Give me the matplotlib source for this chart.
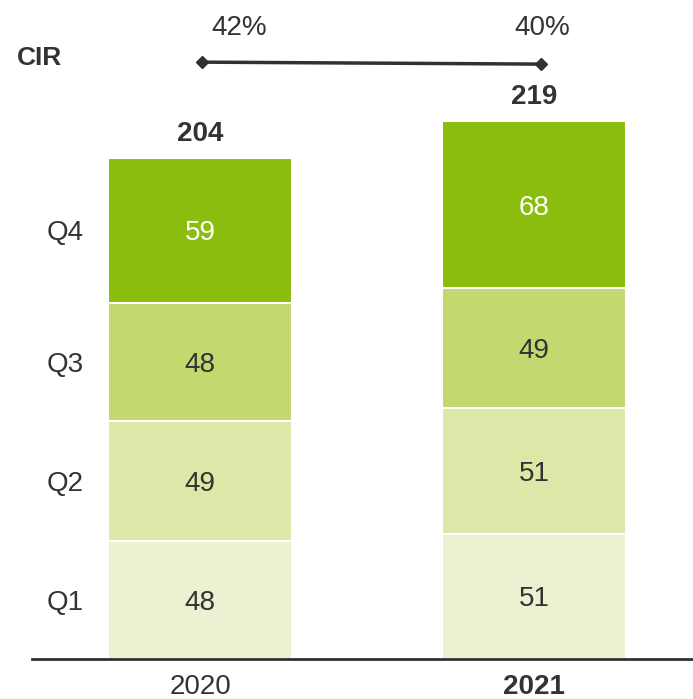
import numpy as np
import matplotlib.pyplot as plt

plt.rcParams['font.family'] = ['Liberation Sans', 'DejaVu Sans']

# data
years = ['2020', '2021']
quarters = ['Q1', 'Q2', 'Q3', 'Q4']
q1 = [48, 51]
q2 = [49, 51]
q3 = [48, 49]
q4 = [59, 68]
totals = [204, 219]
cir = ['42%', '40%']

colors = ['#eaf2d2', '#dce8a8', '#c3d96f', '#8bbd0f']
dark = '#333333'

fig = plt.figure(figsize=(6.93, 6.99), dpi=100)
ax = fig.add_axes([0, 0, 1, 1])

x = np.arange(len(years))
width = 0.551
bottom = np.zeros(len(years))
for i, vals in enumerate([q1, q2, q3, q4]):
    ax.bar(x, vals, width, bottom=bottom, color=colors[i],
           edgecolor='white', linewidth=1.5)
    for xi, v, b in zip(x, vals, bottom):
        ax.text(xi, b + v / 2, str(v), ha='center', va='center_baseline',
                fontsize=20, color='white' if i == 3 else dark)
    # quarter labels on the left, aligned with 2020 segments
    ax.text(-0.404, bottom[0] + vals[0] / 2, quarters[i], ha='center',
            va='center_baseline', fontsize=20, color=dark)
    bottom += vals

# totals on top
for xi, t in zip(x, totals):
    ax.annotate(str(t), (xi, t), xytext=(0, 8), textcoords='offset points',
                ha='center', va='bottom', fontsize=20, fontweight='bold',
                color=dark)

# CIR line
cir_y = 243
ax.plot(x + [0.006, 0.021], [cir_y, cir_y - 0.8], color='#2d332d', lw=2.5,
        marker='D', markersize=6)
ax.text(0.117, 257, cir[0], ha='center', va='center', fontsize=20, color=dark)
ax.text(1.024, 257, cir[1], ha='center', va='center', fontsize=20, color=dark)
ax.text(-0.48, 244.5, 'CIR', ha='center', va='center', fontsize=19,
        fontweight='bold', color=dark)

# baseline
ax.plot([-0.503, 1.476], [0, 0], color='#2d332d', lw=2, clip_on=False)

# year labels
ax.text(0, -11.5, years[0], ha='center', va='center', fontsize=20, color=dark)
ax.text(1, -11.5, years[1], ha='center', va='center', fontsize=20,
        fontweight='bold', color=dark)

ax.set_xlim(-0.599, 1.476)
ax.set_ylim(-16.29, 268.3)
ax.axis('off')

fig.savefig('out.png', dpi=100)
